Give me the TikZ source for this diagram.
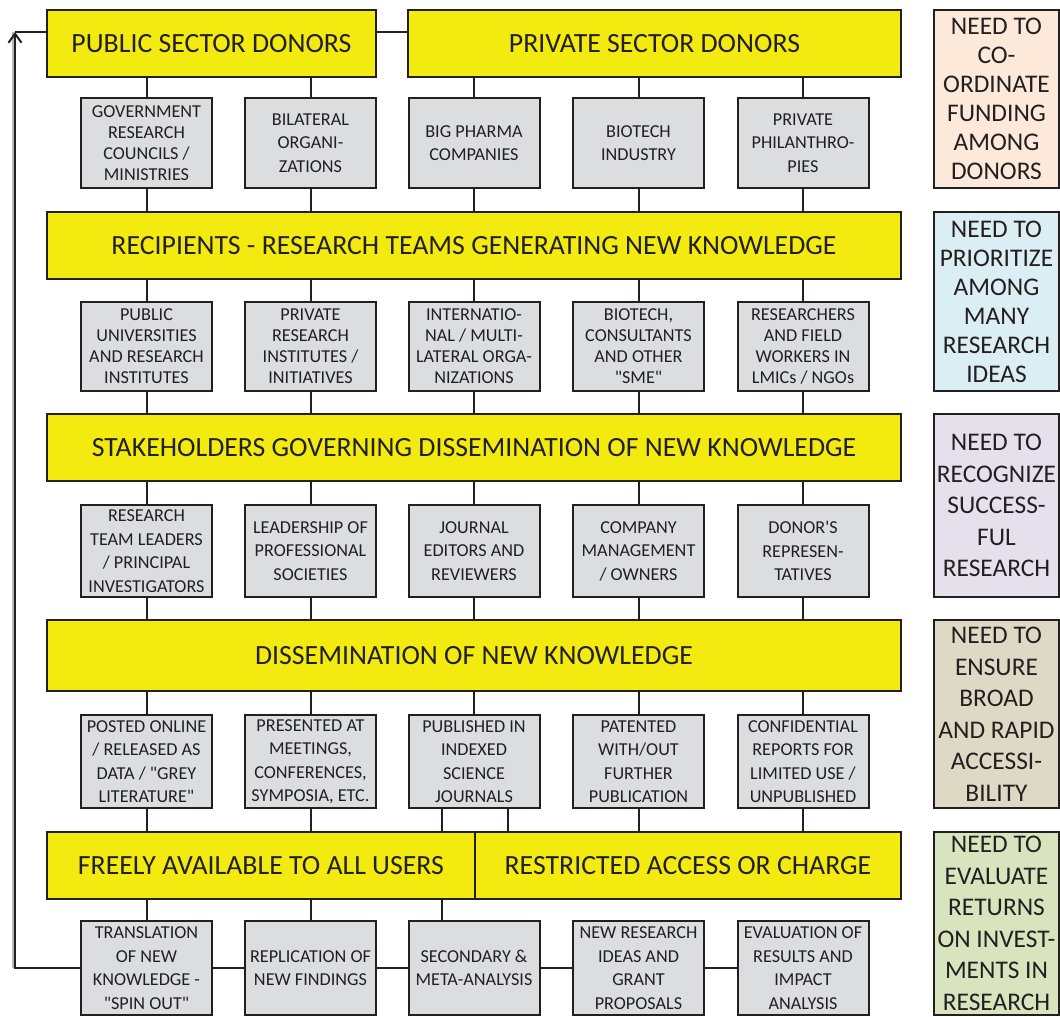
\documentclass[tikz,border=0pt]{standalone}
\usepackage{fontspec}
\newfontfamily\cf{Carlito}
\usetikzlibrary{arrows.meta}
\definecolor{yel}{RGB}{243,235,15}
\definecolor{gry}{RGB}{220,221,223}
\definecolor{ink}{RGB}{35,31,32}
\definecolor{nA}{RGB}{253,233,217}
\definecolor{nB}{RGB}{218,238,243}
\definecolor{nC}{RGB}{229,224,236}
\definecolor{nD}{RGB}{221,217,196}
\definecolor{nE}{RGB}{215,228,189}
\begin{document}
\begin{tikzpicture}[x=1pt,y=-1pt,
  box/.style={draw=ink, line width=2pt, inner sep=0pt, align=center, text=ink},
  ybox/.style={box, fill=yel, font=\cf\fontsize{27.8}{32}\selectfont},
  gbox/.style={box, fill=gry, minimum width=131pt, font=\cf\fontsize{18.2}{23.5}\selectfont},
  gtight/.style={font=\cf\fontsize{18.2}{21}\selectfont},
  nbox/.style={box, minimum width=125pt, font=\cf\fontsize{25.4}{29}\selectfont},
  nwide/.style={font=\cf\fontsize{25.4}{31.5}\selectfont},
  conn/.style={draw=ink, line width=2pt}]
\useasboundingbox (0,0) rectangle (1060,1017);
% yellow headers
\node[ybox, minimum width=329pt, minimum height=67pt] (pub) at (211.5,43.5) {PUBLIC SECTOR DONORS};
\node[ybox, minimum width=493pt, minimum height=67pt] (priv) at (654.5,43.5) {PRIVATE SECTOR DONORS};
\node[ybox, minimum width=854pt, minimum height=67pt] (rec) at (474,245.5) {RECIPIENTS - RESEARCH TEAMS GENERATING NEW KNOWLEDGE};
\node[ybox, minimum width=854pt, minimum height=67pt] (stk) at (474,447.5) {STAKEHOLDERS GOVERNING DISSEMINATION OF NEW KNOWLEDGE};
\node[ybox, minimum width=854pt, minimum height=71pt] (dis) at (474,655.5) {DISSEMINATION OF NEW KNOWLEDGE};
\node[ybox, minimum width=428pt, minimum height=67pt] (free) at (261,865.5) {FREELY AVAILABLE TO ALL USERS};
\node[ybox, minimum width=426pt, minimum height=67pt] (restr) at (688,865.5) {RESTRICTED ACCESS OR CHARGE};
% row 1
\node[gbox, gtight, minimum height=90pt] (g11) at (146.5,143) {GOVERNMENT\\RESEARCH\\COUNCILS /\\MINISTRIES};
\node[gbox, minimum height=90pt] (g12) at (310.5,143) {BILATERAL\\ORGANI-\\ZATIONS};
\node[gbox, minimum height=90pt] (g13) at (474,143) {BIG PHARMA\\COMPANIES};
\node[gbox, minimum height=90pt] (g14) at (638.5,143) {BIOTECH\\INDUSTRY};
\node[gbox, minimum height=90pt] (g15) at (803,143) {PRIVATE\\PHILANTHRO-\\PIES};
% row 2
\node[gbox, gtight, minimum height=89pt] (g21) at (146.5,346.5) {PUBLIC\\UNIVERSITIES\\AND RESEARCH\\INSTITUTES};
\node[gbox, gtight, minimum height=89pt] (g22) at (310.5,346.5) {PRIVATE\\RESEARCH\\INSTITUTES /\\INITIATIVES};
\node[gbox, gtight, minimum height=89pt] (g23) at (474,346.5) {INTERNATIO-\\NAL / MULTI-\\LATERAL ORGA-\\NIZATIONS};
\node[gbox, gtight, minimum height=89pt] (g24) at (638.5,346.5) {BIOTECH,\\CONSULTANTS\\AND OTHER\\"SME"};
\node[gbox, gtight, minimum height=89pt] (g25) at (803,346.5) {RESEARCHERS\\AND FIELD\\WORKERS IN\\LMICs / NGOs};
% row 3
\node[gbox, minimum height=92pt] (g31) at (146.5,551) {RESEARCH\\TEAM LEADERS\\/ PRINCIPAL\\INVESTIGATORS};
\node[gbox, minimum height=92pt] (g32) at (310.5,551) {LEADERSHIP OF\\PROFESSIONAL\\SOCIETIES};
\node[gbox, minimum height=92pt] (g33) at (474,551) {JOURNAL\\EDITORS AND\\REVIEWERS};
\node[gbox, minimum height=92pt] (g34) at (638.5,551) {COMPANY\\MANAGEMENT\\/ OWNERS};
\node[gbox, minimum height=92pt] (g35) at (803,551) {DONOR'S\\REPRESEN-\\TATIVES};
% row 4
\node[gbox, minimum height=93pt] (g41) at (146.5,761.5) {POSTED ONLINE\\/ RELEASED AS\\DATA / "GREY\\LITERATURE"};
\node[gbox, minimum height=93pt] (g42) at (310.5,761.5) {PRESENTED AT\\MEETINGS,\\CONFERENCES,\\SYMPOSIA, ETC.};
\node[gbox, minimum height=93pt] (g43) at (474,761.5) {PUBLISHED IN\\INDEXED\\SCIENCE\\JOURNALS};
\node[gbox, minimum height=93pt] (g44) at (638.5,761.5) {PATENTED\\WITH/OUT\\FURTHER\\PUBLICATION};
\node[gbox, minimum height=93pt] (g45) at (803,761.5) {CONFIDENTIAL\\REPORTS FOR\\LIMITED USE /\\UNPUBLISHED};
% row 5
\node[gbox, minimum height=94pt] (g51) at (146.5,968) {TRANSLATION\\OF NEW\\KNOWLEDGE -\\"SPIN OUT"};
\node[gbox, minimum height=94pt] (g52) at (310.5,968) {REPLICATION OF\\NEW FINDINGS};
\node[gbox, minimum height=94pt] (g53) at (474,968) {SECONDARY \&\\META-ANALYSIS};
\node[gbox, minimum height=94pt] (g54) at (638.5,968) {NEW RESEARCH\\IDEAS AND\\GRANT\\PROPOSALS};
\node[gbox, minimum height=94pt] (g55) at (803,968) {EVALUATION OF\\RESULTS AND\\IMPACT\\ANALYSIS};
% need boxes
\node[nbox, fill=nA, minimum height=178pt] (n1) at (996.5,99) {NEED TO\\CO-\\ORDINATE\\FUNDING\\AMONG\\DONORS};
\node[nbox, fill=nB, minimum height=179pt] (n2) at (996.5,301.5) {NEED TO\\PRIORITIZE\\AMONG\\MANY\\RESEARCH\\IDEAS};
\node[nbox, nwide, fill=nC, minimum height=183pt] (n3) at (996.5,505.5) {NEED TO\\RECOGNIZE\\SUCCESS-\\FUL\\RESEARCH};
\node[nbox, nwide, fill=nD, minimum height=188pt] (n4) at (996.5,714) {NEED TO\\ENSURE\\BROAD\\AND RAPID\\ACCESSI-\\BILITY};
\node[nbox, nwide, fill=nE, minimum height=183pt] (n5) at (996.5,923.5) {NEED TO\\EVALUATE\\RETURNS\\ON INVEST-\\MENTS IN\\RESEARCH};
% connectors top
\foreach \g in {g11,g12} \draw[conn] (\g.north) -- (\g.north |- pub.south);
\foreach \g in {g13,g14,g15} \draw[conn] (\g.north) -- (\g.north |- priv.south);
\foreach \i in {1,...,5} {
  \draw[conn] (g1\i.south) -- (g1\i.south |- rec.north);
  \draw[conn] (g2\i.north) -- (g2\i.north |- rec.south);
  \draw[conn] (g2\i.south) -- (g2\i.south |- stk.north);
  \draw[conn] (g3\i.north) -- (g3\i.north |- stk.south);
  \draw[conn] (g3\i.south) -- (g3\i.south |- dis.north);
  \draw[conn] (g4\i.north) -- (g4\i.north |- dis.south);
}
\foreach \g in {g41,g42} \draw[conn] (\g.south) -- (\g.south |- free.north);
\foreach \g in {g44,g45} \draw[conn] (\g.south) -- (\g.south |- restr.north);
\draw[conn] ([xshift=-32pt]g43.south) -- ([xshift=-32pt]g43.south |- free.north);
\draw[conn] ([xshift=34pt]g43.south) -- ([xshift=34pt]g43.south |- restr.north);
\foreach \g in {g51,g52} \draw[conn] (\g.north) -- (\g.north |- free.south);
\draw[conn] ([xshift=-32pt]g53.north) -- ([xshift=-32pt]g53.north |- free.south);
% bottom chain
\draw[conn] (g51.east) -- (g52.west);
\draw[conn] (g52.east) -- (g53.west);
\draw[conn] (g53.east) -- (g54.west);
\draw[conn] (g54.east) -- (g55.west);
% feedback arrow
\coordinate (ab) at (15,968);
\coordinate (at) at (15,32);
\draw[gray!55, line width=1.5pt] ([xshift=-1.8pt]ab) -- ([xshift=-1.8pt]at);
\draw[conn, -{Straight Barb[length=9pt,width=13pt,line width=2pt]}] (g51.west) -- (ab) -- (at);
\draw[conn] (at) -- (at -| pub.west);
\draw[conn] (pub.east |- at) -- (priv.west |- at);
\end{tikzpicture}
\end{document}
